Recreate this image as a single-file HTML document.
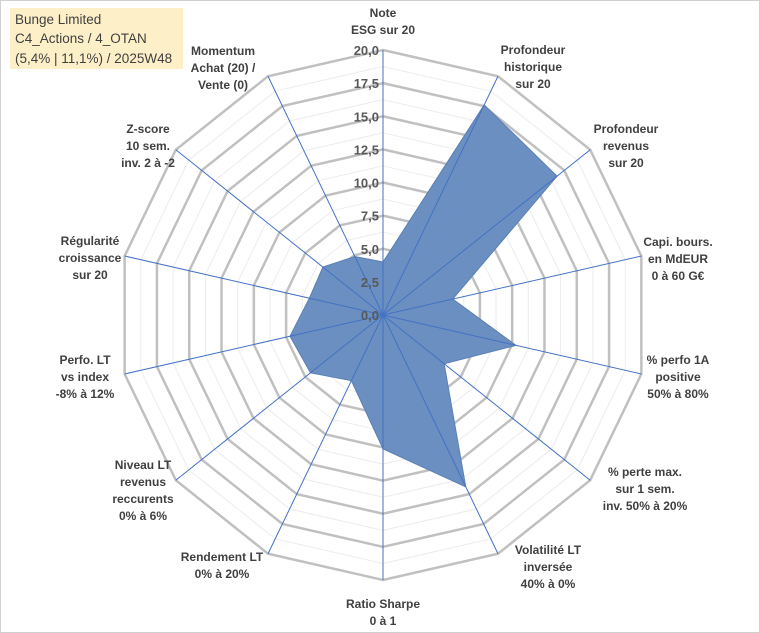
<!DOCTYPE html>
<html><head><meta charset="utf-8"><style>
body{margin:0;background:#fff;}
svg{display:block;font-family:"Liberation Sans",sans-serif;}
.lbl{font-size:12px;font-weight:bold;fill:#404040;text-anchor:middle;}
.tick{font-size:13px;font-weight:bold;fill:#595959;text-anchor:end;}
</style></head><body>
<svg id="chart" width="760" height="633" viewBox="0 0 760 633">
<rect x="0.5" y="0.5" width="759" height="632" fill="#fff" stroke="#d0d0d0"/>
<g id="grid"></g><g id="area"></g><g id="spokes"></g><g id="ticks"></g><g id="labels"></g>
<rect x="10" y="8" width="173" height="61" fill="#fdf0c8"/>
<text x="15" y="24" font-size="13.5" fill="#404040">Bunge Limited</text>
<text x="15" y="43" font-size="13.5" fill="#404040">C4_Actions / 4_OTAN</text>
<text x="15" y="63" font-size="13.5" fill="#404040">(5,4% | 11,1%) / 2025W48</text>
</svg>
<script>
const categories=[["Note","ESG sur 20"],["Profondeur","historique","sur 20"],["Profondeur","revenus","sur 20"],["Capi. bours.","en MdEUR","0 à 60 G€"],["% perfo 1A","positive","50% à 80%"],["% perte max.","sur 1 sem.","inv. 50% à 20%"],["Volatilité LT","inversée","40% à 0%"],["Ratio Sharpe","0 à 1"],["Rendement LT","0% à 20%"],["Niveau LT","revenus","reccurents","0% à 6%"],["Perfo. LT","vs index","-8% à 12%"],["Régularité","croissance","sur 20"],["Z-score","10 sem.","inv. 2 à -2"],["Momentum","Achat (20) /","Vente (0)"]];
const values=[4.0,17.6,16.8,5.4,10.3,5.9,14.4,10.1,5.5,7.0,7.2,5.7,5.8,4.9];
const tickLabels=["0,0","2,5","5,0","7,5","10,0","12,5","15,0","17,5","20,0"];
const labelPos=[[383,12],[533,49],[626,128],[678,241],[678,359],[645,471],[548,549],[383,603],[222,556],[143,464],[85,359],[90,240],[148,128],[223,50]];
const NS="http://www.w3.org/2000/svg",cx=383,cy=315,R=265,maxV=20,N=categories.length;
function pt(i,v){const a=i*2*Math.PI/N;const r=v/maxV*R;return [cx+r*Math.sin(a),cy-r*Math.cos(a)];}
function mk(tag,attrs,parent){const e=document.createElementNS(NS,tag);for(const k in attrs)e.setAttribute(k,attrs[k]);document.getElementById(parent).appendChild(e);return e;}
for(let k=1;k<=16;k++){const v=k*1.25;const major=k%2===0;
const p=mk('polygon',{points:categories.map((c,i)=>pt(i,v).join(',')).join(' '),fill:'none',stroke:major?'#c0c0c0':'#ececec','stroke-width':major?2.5:1},'grid');

}
const ar=mk('polygon',{points:values.map((v,i)=>pt(i,v).join(',')).join(' '),fill:'#6a8fc0',stroke:'#5a80b5','stroke-width':1},'area');


categories.forEach((c,i)=>{const e=pt(i,maxV);
const l=mk('line',{x1:cx,y1:cy,x2:e[0],y2:e[1],stroke:'#4472c4','stroke-width':1},'spokes');


const t=mk('text',{class:'lbl',x:labelPos[i][0],y:labelPos[i][1]+5},'labels');


c.forEach((s,j)=>{const ts=document.createElementNS(NS,'tspan');ts.setAttribute('x',labelPos[i][0]);ts.setAttribute('dy',j?17:0);ts.textContent=s;t.appendChild(ts);});});
mk('circle',{cx:cx,cy:cy,r:2.5,fill:'#4472c4'},'spokes');
tickLabels.forEach((s,k)=>{const y=cy-k*2.5/maxV*R;
const t=mk('text',{class:'tick',x:cx-4,y:y+5},'ticks');t.textContent=s;

});
</script>
</body></html>
